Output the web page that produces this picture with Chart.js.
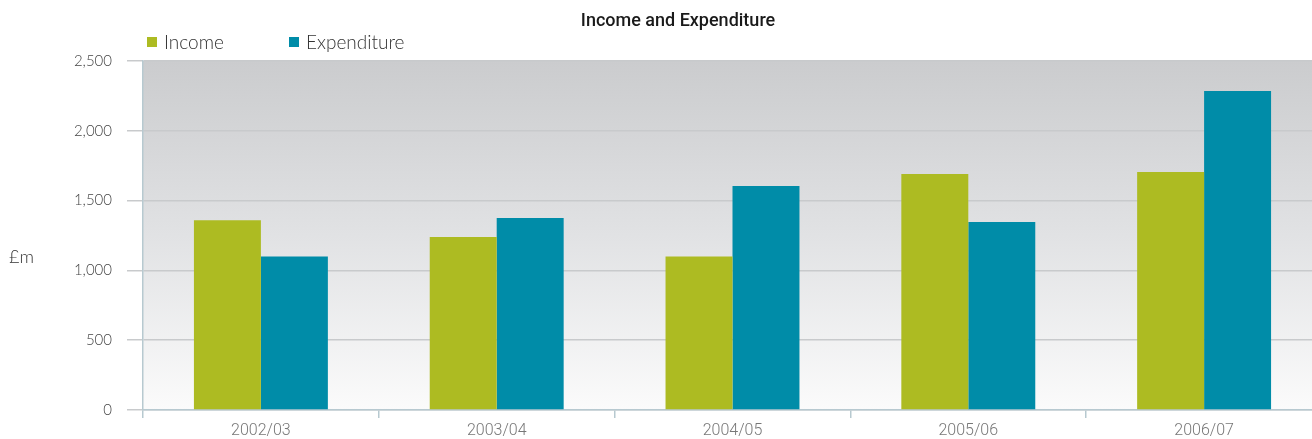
<!DOCTYPE html>
<html>
<head>
<meta charset="utf-8">
<title>Income and Expenditure</title>
<script src="https://cdn.jsdelivr.net/npm/chart.js@4"></script>
<style>
  html, body { margin: 0; padding: 0; background: #fff; overflow: hidden; }
  #chart { display: block; }
</style>
</head>
<body>
<canvas id="chart" width="1322" height="440"></canvas>
<script>
// Daten
const jahre = ["2002/03", "2003/04", "2004/05", "2005/06", "2006/07"];
const income = [1360, 1240, 1100, 1690, 1705];
const expenditure = [1100, 1375, 1605, 1347, 2285];
const yTicks = [0, 500, 1000, 1500, 2000, 2500];

const titel = "Income and Expenditure";
const einheit = "£m";

// Farben
const farbeIncome = "#adbb22";
const farbeExpenditure = "#008ca8";
const achsenFarbe = "#b7c9d0";
const gitterFarbe = "#c8cacc";

// Hintergrund-Verlauf im Diagrammbereich
const hintergrund = {
  id: "hintergrund",
  beforeDraw(chart) {
    const { ctx, chartArea: a } = chart;
    const g = ctx.createLinearGradient(0, a.top, 0, a.bottom);
    g.addColorStop(0, "#cbccce");
    g.addColorStop(0.5, "#e1e2e4");
    g.addColorStop(1, "#fbfbfb");
    ctx.save();
    ctx.fillStyle = g;
    ctx.fillRect(a.left, a.top, a.right - a.left, a.bottom - a.top);
    ctx.restore();
  },
};

// Titel, Legende und Einheit selbst zeichnen
const beschriftung = {
  id: "beschriftung",
  afterDraw(chart) {
    const { ctx, chartArea: a } = chart;
    ctx.save();
    ctx.textBaseline = "middle";

    ctx.fillStyle = "#1a1a1a";
    ctx.font = "500 18px Roboto, sans-serif";
    ctx.textAlign = "center";
    ctx.fillText(titel, 678, 21);

    ctx.textAlign = "left";
    ctx.font = "300 19px Lato, sans-serif";
    let x = a.left + 4;
    chart.data.datasets.forEach((ds) => {
      ctx.fillStyle = ds.backgroundColor;
      ctx.fillRect(x, 37, 10, 10);
      ctx.fillStyle = "#333";
      ctx.fillText(ds.label, x + 17, 43);
      x += 142;
    });

    ctx.font = "300 18px Lato, sans-serif";
    ctx.fillStyle = "#333";
    ctx.fillText(einheit, 9, 257);
    ctx.restore();
  },
};

const ctx = document.getElementById("chart").getContext("2d");

new Chart(ctx, {
  type: "bar",
  data: {
    labels: jahre,
    datasets: [
      {
        label: "Income",
        data: income,
        backgroundColor: farbeIncome,
        categoryPercentage: 0.568,
        barPercentage: 1.0,
      },
      {
        label: "Expenditure",
        data: expenditure,
        backgroundColor: farbeExpenditure,
        categoryPercentage: 0.568,
        barPercentage: 1.0,
      },
    ],
  },
  options: {
    responsive: false,
    animation: false,
    layout: { padding: { top: 61, left: 0, right: 0, bottom: 0 } },
    plugins: {
      legend: { display: false },
      title: { display: false },
      tooltip: { enabled: false },
    },
    scales: {
      x: {
        afterFit(scale) { scale.height = 30; },
        border: { color: achsenFarbe, width: 1.5 },
        grid: {
          drawOnChartArea: false,
          drawTicks: true,
          tickLength: 8,
          color: achsenFarbe,
          lineWidth: 1.5,
        },
        ticks: {
          color: "#777",
          padding: 3,
          font: { family: "Roboto, sans-serif", size: 16, weight: 300 },
        },
      },
      y: {
        min: 0,
        max: 2500,
        afterFit(scale) { scale.width = 143; },
        afterBuildTicks(scale) { scale.ticks = yTicks.map((v) => ({ value: v })); },
        border: { color: achsenFarbe, width: 1.5 },
        grid: {
          color: gitterFarbe,
          lineWidth: 1.5,
          tickLength: 16,
          tickColor: "#c8cacc",
        },
        ticks: {
          color: "#444",
          padding: 15,
          font: { family: "Lato, sans-serif", size: 15, weight: 300 },
          callback: (v) => v.toLocaleString("en-GB"),
        },
      },
    },
  },
  plugins: [hintergrund, beschriftung],
});
</script>
</body>
</html>
